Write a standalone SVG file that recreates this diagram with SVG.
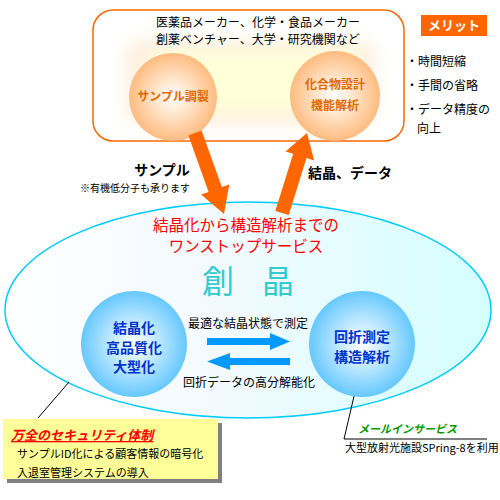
<svg xmlns="http://www.w3.org/2000/svg" width="500" height="500" viewBox="0 0 500 500">
<defs>
<style>
text{font-family:"Noto Sans CJK JP","Noto Sans CJK SC",sans-serif}
.blk{fill:#000;font-size:12px}
.org{fill:#E06A00;font-size:12px;font-weight:bold;text-anchor:middle}
.blu{fill:#0033CC;font-size:14px;font-weight:bold;text-anchor:middle}
.red{fill:#FF0000;font-size:15.5px;text-anchor:middle}
.sm{fill:#000;font-size:11px}
.ln{stroke:#000;stroke-width:1;fill:none}
</style>
<radialGradient id="og" cx="0.5" cy="0.5" r="0.5">
<stop offset="0" stop-color="#FFFFFF"/>
<stop offset="0.4" stop-color="#FFE6CC"/>
<stop offset="1" stop-color="#FFBB80"/>
</radialGradient>
<radialGradient id="bg" cx="0.5" cy="0.5" r="0.5">
<stop offset="0" stop-color="#FFFFFF"/>
<stop offset="0.45" stop-color="#BFE8FF"/>
<stop offset="1" stop-color="#66C8FF"/>
</radialGradient>
<linearGradient id="eg" x1="0" y1="0" x2="1" y2="0">
<stop offset="0" stop-color="#FFFFFF"/>
<stop offset="0.4" stop-color="#F4FAFF"/>
<stop offset="1" stop-color="#D4FFFF"/>
</linearGradient>
<filter id="blur" x="-0.2" y="-0.3" width="1.4" height="1.6"><feGaussianBlur stdDeviation="8"/></filter>
</defs>

<g id="top-box">
<rect x="93" y="10" width="311" height="131" rx="20" fill="#FFFFFF" stroke="#FF6600" stroke-width="1.5"/>
<rect x="125" y="40" width="250" height="85" rx="15" fill="#FFF0E0" filter="url(#blur)"/>
<rect x="150" y="50" width="210" height="62" rx="10" fill="#FFFFD8" filter="url(#blur)"/>
<text class="blk" x="258" y="27" text-anchor="middle" font-size="11.5">医薬品メーカー、化学・食品メーカー</text>
<text class="blk" x="258" y="44" text-anchor="middle" font-size="11.5">創薬ベンチャー、大学・研究機関など</text>
</g>

<g id="node-sample-prep">
<circle cx="173" cy="97" r="44" fill="url(#og)"/>
<text class="org" x="173" y="101">サンプル調製</text>
</g>

<g id="node-compound-design">
<circle cx="335" cy="96" r="45" fill="url(#og)"/>
<text class="org" x="335" y="89">化合物設計</text>
<text class="org" x="335" y="110">機能解析</text>
</g>

<g id="merit">
<rect x="421" y="15" width="66" height="21" fill="#FF6600"/>
<text x="454" y="30" fill="#FFFFFF" font-size="13" font-weight="bold" text-anchor="middle">メリット</text>
<text class="blk" x="406" y="66" font-size="13">・時間短縮</text>
<text class="blk" x="406" y="90" font-size="13">・手間の省略</text>
<text class="blk" x="406" y="114" font-size="13">・データ精度の</text>
<text class="blk" x="417" y="133" font-size="13">向上</text>
</g>

<g id="main-ellipse">
<ellipse cx="248" cy="310" rx="243" ry="108" fill="url(#eg)" stroke="#00CCFF" stroke-width="1.5"/>
<text class="red" x="246" y="231">結晶化から構造解析までの</text>
<text class="red" x="246" y="252">ワンストップサービス</text>
<text x="218" y="293" fill="#33CCCC" font-size="32" text-anchor="middle">創</text>
<text x="278" y="293" fill="#33CCCC" font-size="32" text-anchor="middle">晶</text>
</g>

<g id="connectors">
<polygon fill="#FF6600" points="201.6,130.6 221.8,187.1 229.3,184.4 224,214 201.1,194.6 208.6,191.9 188.4,135.4"/>
<polygon fill="#FF6600" points="275.3,210.9 293.2,153.8 285.5,151.4 307,133 314.2,160.4 306.5,158 288.7,215.1"/>
<polygon fill="#0099FF" points="207,338 270,338 270,333 290,341.5 270,350 270,345 207,345"/>
<polygon fill="#0099FF" points="290,358 230,358 230,353 207,361.5 230,370 230,365 290,365"/>
<line class="ln" x1="69" y1="382" x2="38" y2="418"/>
<polyline class="ln" points="355,392 344,439 487,439"/>
</g>

<g id="labels">
<text x="162" y="175" font-size="14" font-weight="bold" text-anchor="middle">サンプル</text>
<text x="80" y="192" font-size="10">※有機低分子も承ります</text>
<text x="308" y="178" font-size="14" font-weight="bold">結晶、データ</text>
<text class="blk" x="248" y="328" text-anchor="middle">最適な結晶状態で測定</text>
<text class="blk" x="249" y="387" text-anchor="middle">回折データの高分解能化</text>
</g>

<g id="node-crystallization">
<circle cx="134" cy="344" r="53" fill="url(#bg)"/>
<text class="blu" x="134" y="333">結晶化</text>
<text class="blu" x="134" y="353">高品質化</text>
<text class="blu" x="134" y="372">大型化</text>
</g>

<g id="node-diffraction">
<circle cx="362" cy="344" r="53" fill="url(#bg)"/>
<text class="blu" x="362" y="342">回折測定</text>
<text class="blu" x="362" y="362">構造解析</text>
</g>

<g id="security">
<rect x="7" y="423" width="215" height="60" fill="#808080"/>
<rect x="3" y="419" width="215" height="60" fill="#FFFF99"/>
<text x="11" y="440" fill="#FF0000" font-size="13" font-weight="bold" font-style="italic" text-decoration="underline">万全のセキュリティ体制</text>
<text class="sm" x="17" y="458">サンプルID化による顧客情報の暗号化</text>
<text class="sm" x="17" y="477">入退室管理システムの導入</text>
</g>

<g id="mail-in">
<text x="358" y="433" fill="#009900" font-size="11" font-weight="bold" font-style="italic">メールインサービス</text>
<text class="sm" x="345" y="452">大型放射光施設SPring-8を利用</text>
</g>
</svg>
